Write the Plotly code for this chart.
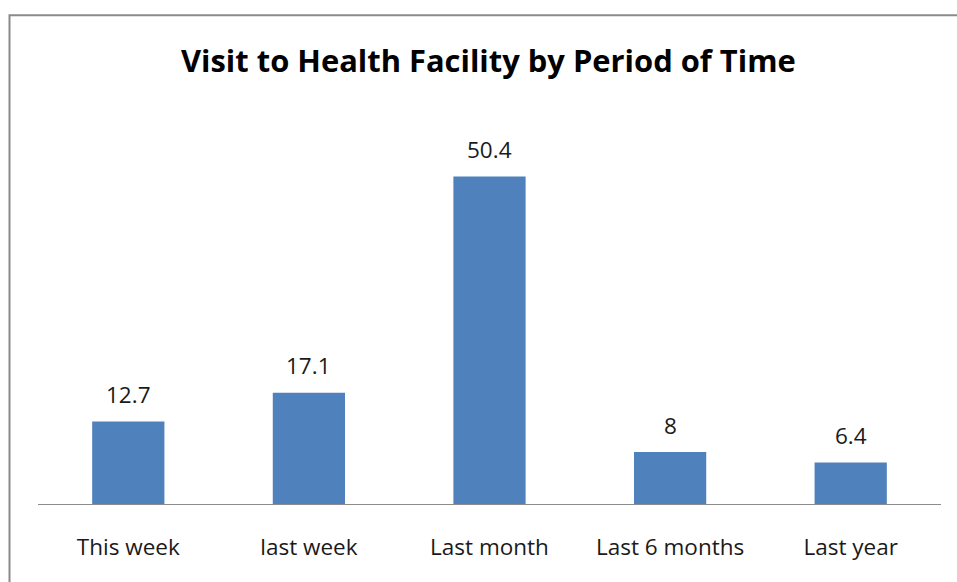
import plotly.graph_objects as go

categories = ["This week", "last week", "Last month", "Last 6 months", "Last year"]
values = [12.7, 17.1, 50.4, 8, 6.4]
value_labels = ["12.7", "17.1", "50.4", "8", "6.4"]

FONT = "Open Sans"
W, H = 957, 582
ml, mr, mt, mb = 38, 16, 113.5, 78
PW, PH = W - ml - mr, H - mt - mb


def px_x(x):
    return (x - ml) / PW


def px_y(y):
    return (H - mb - y) / PH


fig = go.Figure()
fig.add_trace(go.Bar(x=categories, y=values, marker=dict(color="#4F81BD", line=dict(width=0)),
                     hoverinfo="x+y"))

for c, v, t in zip(categories, values, value_labels):
    fig.add_annotation(x=c, y=v, text=t, showarrow=False, yanchor="middle", yshift=27,
                       font=dict(family=FONT, size=22.5, color="#1a1a1a"))

fig.add_annotation(xref="paper", yref="paper", x=px_x(488), y=px_y(59.5),
                   text="<b>Visit to Health Facility by Period of Time</b>",
                   showarrow=False, xanchor="center", yanchor="middle",
                   font=dict(family=FONT, size=30.9, color="#000000"))

# outer chart border (extends beyond right/bottom edges as in the reference)
fig.add_shape(type="rect", xref="paper", yref="paper",
              x0=px_x(9.5), x1=px_x(W + 20), y0=px_y(H + 20), y1=px_y(14.5),
              line=dict(color="#8a8a8a", width=2), layer="above")

fig.update_layout(
    width=W, height=H,
    margin=dict(l=ml, r=mr, t=mt, b=mb),
    paper_bgcolor="white", plot_bgcolor="white",
    bargap=0.6, showlegend=False,
    font=dict(family=FONT, size=22.5, color="#1a1a1a"),
    xaxis=dict(showline=True, linecolor="#8c8c8c", linewidth=1, ticks="", showgrid=False,
               tickfont=dict(family=FONT, size=22.5, color="#1a1a1a"), ticklabelstandoff=23),
    yaxis=dict(range=[0, 60], visible=False, showgrid=False),
)

fig.write_html("out.html", config={"displayModeBar": False},
               post_script="document.body.style.margin='0';")
